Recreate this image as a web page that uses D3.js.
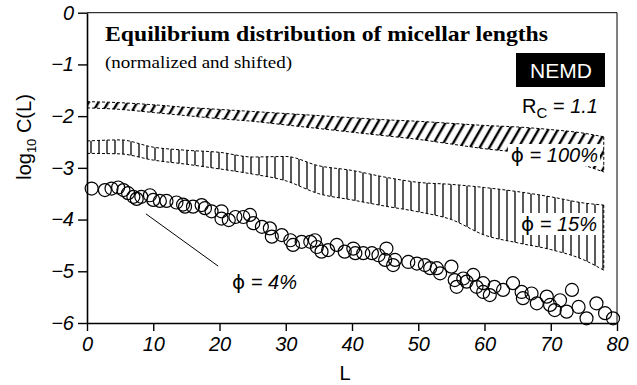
<!DOCTYPE html>
<html>
<head>
<meta charset="utf-8">
<script src="https://cdn.jsdelivr.net/npm/d3@7"></script>
<style>
  body { margin: 0; background: #fff; }
  svg { display: block; }
</style>
</head>
<body>
<div id="wrapper"></div>
<script>
// phi = 4% : open circles (L, log10 C)
const phi4L = [0.7, 2.7, 3.7, 4.7, 5.5, 6.2, 7.0, 7.5, 8.2, 9.5, 10, 11, 12, 13.5, 14.5, 14.8, 16, 17.3, 17.8, 18.8,
  20.3, 20.3, 21.4, 22.4, 23.6, 24.6, 25.1, 26.4, 27.6, 27.9, 29.4, 30.7, 31.1, 32.4, 33.7, 34.4, 34.7, 35.4, 36.4, 37.7,
  38.9, 40.2, 40.5, 41.7, 43, 44, 45.2, 45, 46.2, 46.5, 48.5, 49.8, 51, 51.8, 52.8, 53.3, 55, 55.5, 55.8, 56.8,
  57.3, 58.3, 58.8, 59.8, 59.8, 60.8, 61.5, 62.8, 64.3, 65.6, 65.8, 67.1, 67.9, 69.4, 69.9, 70.6, 71.4, 72.4, 73.2, 74.2,
  75.4, 76.9, 78.2, 79.4]
const phi4Y = [-3.40, -3.43, -3.40, -3.38, -3.43, -3.49, -3.56, -3.60, -3.56, -3.53, -3.62, -3.64, -3.64, -3.67, -3.71, -3.75, -3.75, -3.72, -3.78, -3.84,
  -3.84, -3.98, -4.01, -3.95, -3.95, -3.91, -4.07, -4.14, -4.17, -4.33, -4.30, -4.40, -4.49, -4.43, -4.43, -4.40, -4.53, -4.62, -4.59, -4.49,
  -4.62, -4.56, -4.65, -4.65, -4.65, -4.69, -4.56, -4.78, -4.88, -4.78, -4.82, -4.85, -4.88, -4.94, -4.94, -5.04, -4.91, -5.17, -5.30, -5.14,
  -5.20, -5.07, -5.30, -5.23, -5.40, -5.46, -5.30, -5.36, -5.23, -5.40, -5.52, -5.43, -5.62, -5.49, -5.65, -5.75, -5.56, -5.78, -5.36, -5.69,
  -5.91, -5.62, -5.81, -5.91]

// bands: upper / lower edges at these L values
const bandL = [0, 5, 10, 15, 20, 25, 30, 35, 40, 45, 50, 55, 60, 65, 70, 75, 78]
const phi100Up = [-1.72, -1.74, -1.78, -1.83, -1.87, -1.91, -1.95, -1.99, -2.03, -2.07, -2.10, -2.14, -2.18, -2.21, -2.26, -2.33, -2.40]
const phi100Lo = [-1.84, -1.87, -1.93, -1.99, -2.05, -2.10, -2.17, -2.24, -2.31, -2.38, -2.45, -2.54, -2.63, -2.70, -2.80, -2.95, -3.08]
const phi15Up = [-2.48, -2.46, -2.60, -2.66, -2.70, -2.79, -2.78, -2.96, -3.05, -3.18, -3.28, -3.32, -3.38, -3.46, -3.56, -3.68, -3.72]
const phi15Lo = [-2.72, -2.73, -2.85, -2.93, -3.02, -3.12, -3.25, -3.50, -3.62, -3.74, -3.85, -4.00, -4.30, -4.45, -4.58, -4.78, -4.98]

const xTicks = [0, 10, 20, 30, 40, 50, 60, 70, 80]
const yTicks = [0, -1, -2, -3, -4, -5, -6]
const leader4 = [[8.9, -3.89], [19.8, -4.9]]

const width = 637, height = 385
const sans = "'Liberation Sans', Arial, sans-serif"
const serif = "'Liberation Serif', 'Times New Roman', serif"

const svg = d3.select("#wrapper").append("svg")
  .attr("width", width).attr("height", height)

const x = d3.scaleLinear().domain([0, 80]).range([87, 617])
const y = d3.scaleLinear().domain([-6, 0]).range([323, 12.7])

// hatch patterns
const defs = svg.append("defs")
defs.append("pattern")
    .attr("id", "diag")
    .attr("patternUnits", "userSpaceOnUse")
    .attr("width", 8.4).attr("height", 20)
    .attr("patternTransform", "rotate(30)")
  .append("line")
    .attr("x1", 2).attr("x2", 2).attr("y1", 0).attr("y2", 20)
    .attr("stroke", "#000").attr("stroke-width", 2.4)
defs.append("pattern")
    .attr("id", "vert")
    .attr("patternUnits", "userSpaceOnUse")
    .attr("width", 8).attr("height", 20)
  .append("line")
    .attr("x1", 3).attr("x2", 3).attr("y1", 0).attr("y2", 20)
    .attr("stroke", "#000").attr("stroke-width", 1.3)

const band = (up, lo) => bandL.map((L, i) => ({ L, up: up[i], lo: lo[i] }))
const area = d3.area().x(d => x(d.L)).y0(d => y(d.lo)).y1(d => y(d.up)).curve(d3.curveMonotoneX)
const upLine = d3.line().x(d => x(d.L)).y(d => y(d.up)).curve(d3.curveMonotoneX)
const loLine = d3.line().x(d => x(d.L)).y(d => y(d.lo)).curve(d3.curveMonotoneX)

const drawBand = (data, fill) => {
  svg.append("path").attr("d", area(data)).attr("fill", `url(#${fill})`)
  ;[upLine, loLine].forEach(g => svg.append("path").attr("d", g(data))
    .attr("fill", "none").attr("stroke", "#000").attr("stroke-width", 1)
    .attr("stroke-dasharray", "3,2"))
  const last = data[data.length - 1]
  svg.append("line")
    .attr("x1", x(last.L)).attr("x2", x(last.L))
    .attr("y1", y(last.up)).attr("y2", y(last.lo))
    .attr("stroke", "#000").attr("stroke-width", 1).attr("stroke-dasharray", "3,2")
}
drawBand(band(phi100Up, phi100Lo), "diag")
drawBand(band(phi15Up, phi15Lo), "vert")

// circles
svg.append("g").selectAll("circle")
  .data(phi4L.map((L, i) => [L, phi4Y[i]]))
  .join("circle")
    .attr("cx", d => x(d[0])).attr("cy", d => y(d[1]))
    .attr("r", 6.5)
    .attr("fill", "none").attr("stroke", "#000").attr("stroke-width", 1.2)

// frame
svg.append("path")
  .attr("d", `M${x(0)},${y(0)}H${x(80)}V${y(-6)}`)
  .attr("fill", "none").attr("stroke", "#000").attr("stroke-width", 1)

// axes
const yAxis = svg.append("g")
  .attr("transform", `translate(${x(0)},0)`)
  .call(d3.axisLeft(y).tickValues(yTicks).tickSize(9).tickSizeOuter(0).tickPadding(4)
    .tickFormat(d => d === 0 ? "0" : "\u2212" + Math.abs(d)))
const xAxis = svg.append("g")
  .attr("transform", `translate(0,${y(-6)})`)
  .call(d3.axisBottom(x).tickValues(xTicks).tickSize(8).tickSizeOuter(0).tickPadding(6))
;[xAxis, yAxis].forEach(a => {
  a.select(".domain").attr("stroke-width", 1.6)
  a.selectAll(".tick line").attr("stroke-width", 1.4)
  a.selectAll("text")
    .attr("font-family", sans).attr("font-style", "italic")
    .attr("font-size", 20).attr("fill", "#000")
})

// axis titles
svg.append("text")
  .attr("x", 345).attr("y", 380)
  .attr("text-anchor", "middle")
  .attr("font-family", sans).attr("font-size", 20)
  .text("L")
const yl = svg.append("text")
  .attr("transform", "translate(31,137) rotate(-90)")
  .attr("text-anchor", "middle")
  .attr("font-family", sans).attr("font-size", 20)
yl.append("tspan").text("log")
yl.append("tspan").attr("font-size", 13).attr("dy", 5).text("10")
yl.append("tspan").attr("dy", -5).text(" C(L)")

// title
svg.append("text")
  .attr("x", 105).attr("y", 41)
  .attr("font-family", serif).attr("font-weight", "bold").attr("font-size", 21)
  .attr("textLength", 443).attr("lengthAdjust", "spacingAndGlyphs")
  .text("Equilibrium distribution of micellar lengths")
svg.append("text")
  .attr("x", 105).attr("y", 68)
  .attr("font-family", serif).attr("font-size", 17)
  .attr("textLength", 187).attr("lengthAdjust", "spacingAndGlyphs")
  .text("(normalized and shifted)")

// NEMD box
svg.append("rect")
  .attr("x", 516).attr("y", 53).attr("width", 89).attr("height", 34)
  .attr("fill", "#000")
svg.append("text")
  .attr("x", 561).attr("y", 78).attr("text-anchor", "middle")
  .attr("font-family", sans).attr("font-size", 21).attr("fill", "#fff")
  .text("NEMD")
const rc = svg.append("text")
  .attr("x", 598).attr("y", 113).attr("text-anchor", "end")
  .attr("font-family", sans).attr("font-size", 20)
rc.append("tspan").text("R")
rc.append("tspan").attr("font-size", 15).attr("dy", 5).text("C")
rc.append("tspan").attr("dy", -5).text(" = ")
rc.append("tspan").attr("font-style", "italic").text("1.1")

// phi labels with white backing
const phiLabel = (tx, ty, val, backed) => {
  const t = svg.append("text")
    .attr("x", tx).attr("y", ty).attr("text-anchor", "end")
    .attr("font-family", sans).attr("font-size", 20)
  t.append("tspan").attr("font-family", "'DejaVu Sans', sans-serif").text("\u03d5")
  t.append("tspan").attr("font-style", "italic").text(" = " + val)
  if (backed) {
    const b = t.node().getBBox()
    svg.insert("rect", () => t.node())
      .attr("x", b.x - 3).attr("y", b.y + 1).attr("width", b.width + 5).attr("height", b.height - 2)
      .attr("fill", "#fff")
  }
}
phiLabel(598, 162, "100%", true)
phiLabel(597, 231, "15%", true)
phiLabel(297, 289, "4%", false)

svg.append("line")
  .attr("x1", x(leader4[0][0])).attr("y1", y(leader4[0][1]))
  .attr("x2", x(leader4[1][0])).attr("y2", y(leader4[1][1]))
  .attr("stroke", "#000").attr("stroke-width", 1)
</script>
</body>
</html>
